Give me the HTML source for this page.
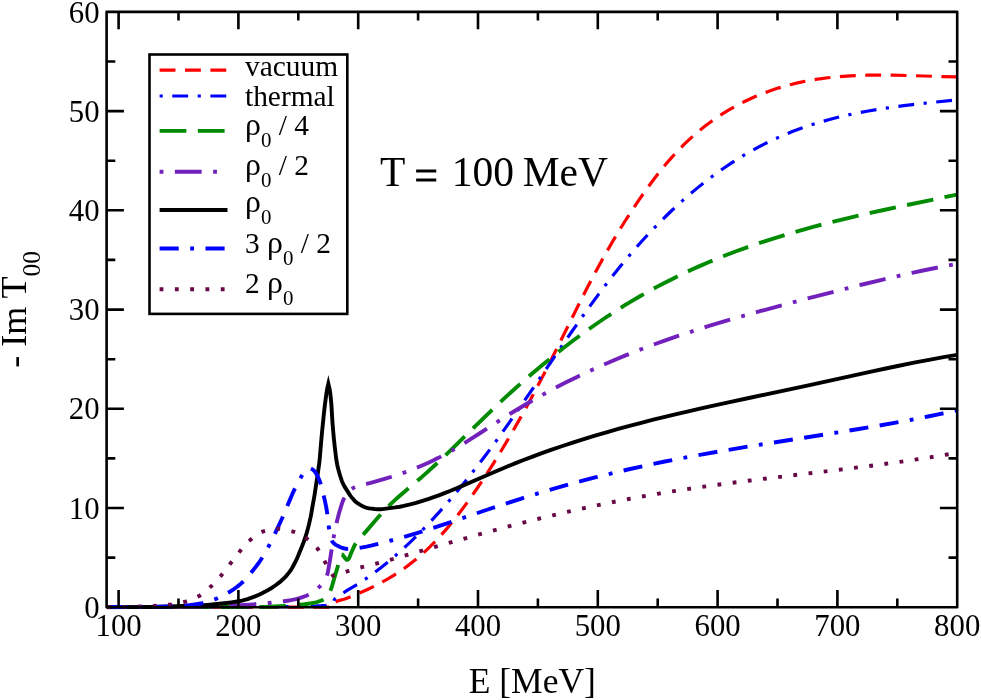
<!DOCTYPE html>
<html><head><meta charset="utf-8"><title>plot</title>
<style>html,body{margin:0;padding:0;background:#fff;}body{width:981px;height:700px;overflow:hidden;font-family:"Liberation Serif",serif;}svg{display:block;}</style>
</head><body>
<svg width="981" height="700" viewBox="0 0 981 700" style="will-change:transform">
<rect x="0" y="0" width="981" height="700" fill="#ffffff"/>
<defs><clipPath id="fr"><rect x="106.6" y="11.9" width="850.6" height="597.5"/></clipPath></defs>
<g clip-path="url(#fr)" fill="none" stroke-linecap="butt">
<path d="M106.6 607.2L332.1 607.2L332.35 607.17L332.6 607L333.1 606.48L333.35 606.04L333.6 605.46L334.35 603.5L334.6 602.98L334.85 602.64L335.6 602.11L336.6 601.54L337.6 601.07L338.85 600.61L343.85 599.28L344.85 598.94L346.85 598.17L351.85 596.18L356.85 594.11L361.85 591.96L366.35 589.94L373.35 586.61L376.85 584.85L380.35 583.02L383.85 581.12L387.1 579.28L390.35 577.36L393.35 575.53L398.85 571.99L404.35 568.2L409.6 564.34L415.1 560.01L420.1 555.82L425.1 551.35L430.1 546.61L434.85 541.83L439.85 536.5L445.1 530.62L449.85 525.01L455.1 518.52L460.1 512.1L465.1 505.4L471.1 497.06L476.35 489.51L482.35 480.57L488.35 471.36L494.1 462.27L500.6 451.72L506.85 441.32L513.1 430.64L519.1 420.15L525.1 409.4L529.85 400.71L534.85 391.37L540.85 379.95L545.6 370.76L556.85 348.52L580.1 301.82L587.1 288.1L592.85 277.03L599.35 264.92L606.35 252.33L612.6 241.52L619.35 230.31L624.35 222.27L629.35 214.45L634.1 207.21L638.85 200.17L644.1 192.6L648.85 185.96L653.1 180.22L658.1 173.72L662.35 168.39L666.35 163.57L671.1 158.12L675.6 153.17L679.85 148.71L684.35 144.21L688.85 139.92L693.35 135.83L696.35 133.22L699.35 130.69L705.1 126.07L710.85 121.75L716.85 117.53L719.85 115.53L722.85 113.6L726.1 111.58L729.35 109.64L735.6 106.11L742.1 102.7L745.6 100.97L748.85 99.43L755.85 96.31L762.6 93.55L769.6 90.95L776.6 88.59L784.1 86.33L791.1 84.44L798.6 82.66L805.35 81.24L813.1 79.84L819.85 78.79L827.6 77.78L834.35 77.05L843.35 76.28L850.35 75.84L859.1 75.43L867.6 75.21L874.85 75.1L882.6 75.11L893.1 75.2L908.35 75.54L942.35 76.55L957.2 76.84" stroke="#ff0000" stroke-width="3.20" stroke-linejoin="round" stroke-miterlimit="10" stroke-dasharray="15.87,9.52" stroke-dashoffset="21.80"/>
<path d="M106.6 607L251.6 606.9L267.85 606.81L285.85 606.61L307.35 606.25L314.85 606.02L321.6 605.72L325.85 605.39L329.35 604.95L330.35 604.76L331.1 604.55L331.85 604.24L332.35 603.96L332.6 603.8L332.85 603.42L334.1 600.18L334.35 599.64L334.6 599.27L335.35 598.37L336.1 597.58L336.85 596.87L337.85 596.06L339.6 594.88L344.1 592.39L348.35 589.72L357.6 584.26L362.1 581.34L367.1 577.91L374.1 572.86L380.85 567.7L388.35 561.65L395.35 555.69L401.6 550.14L407.1 545.07L413.35 539.09L419.6 532.91L425.85 526.5L432.1 519.9L438.1 513.35L444.6 506.06L450.6 499.14L456.85 491.74L462.6 484.76L468.6 477.31L474.6 469.69L480.85 461.57L487.1 453.29L493.35 444.82L499.1 436.9L504.1 429.91L517.1 411.39L529.85 392.87L552.6 359.49L562.85 344.53L571.85 331.53L580.1 319.78L590.1 305.82L598.35 294.59L607.1 283.01L615.35 272.48L620.35 266.27L625.35 260.21L630.6 254L635.85 247.94L641.1 242.04L646.35 236.29L651.6 230.68L656.85 225.23L662.1 219.92L667.1 215L672.6 209.75L677.85 204.87L683.1 200.14L688.6 195.33L693.85 190.89L699.35 186.38L705.85 181.25L712.1 176.51L718.6 171.77L725.1 167.24L731.6 162.91L738.1 158.78L744.85 154.69L751.6 150.81L758.35 147.13L764.6 143.91L771.6 140.5L778.35 137.4L785.35 134.39L792.35 131.58L799.85 128.76L807.1 126.23L814.1 123.95L821.1 121.83L828.6 119.72L836.1 117.78L843.85 115.92L851.6 114.22L859.85 112.55L868.35 110.98L876.6 109.58L885.1 108.26L894.1 106.98L903.85 105.7L912.6 104.63L923.1 103.42L957.2 99.73" stroke="#0000ff" stroke-width="3.20" stroke-linejoin="round" stroke-miterlimit="10" stroke-dasharray="3.17,9.52,15.87,9.52" stroke-dashoffset="36.98"/>
<path d="M106.6 607L190.85 606.98L259.85 606.9L264.35 606.86L269.1 606.73L278.6 606.3L291.85 605.48L298.35 604.93L304.6 604.22L308.1 603.73L311.35 603.21L313.85 602.75L315.85 602.31L317.85 601.77L319.6 601.2L321.35 600.53L323.1 599.75L324.1 599.2L325.35 598.22L326.6 596.95L327.85 595.43L328.6 594.3L329.35 592.9L330.1 591.29L330.85 589.52L331.6 587.48L332.35 585.06L334.35 578L338.1 565.4L339.85 559.31L341.1 555.42L341.35 554.73L341.6 554.34L341.85 554.33L342.1 554.47L342.85 555.14L343.35 555.75L344.85 557.84L346.1 559.23L346.6 559.68L346.85 559.82L347.1 559.89L347.35 559.88L347.6 559.79L347.85 559.62L348.35 559.16L348.85 558.58L349.35 557.64L350.85 553.84L353.35 548.07L354.35 545.92L355.1 544.5L355.6 543.68L356.6 542.19L357.6 540.82L358.85 539.25L360.1 537.81L365.6 531.88L374.1 521.89L378.6 516.77L384.85 510.05L387.85 506.95L390.6 504.18L394.6 500.34L398.35 496.96L409.35 487.55L421.35 477.41L427.6 471.87L434.85 465.26L441.85 458.7L451.35 449.6L483.85 417.8L490.6 411.28L497.35 404.86L505.6 397.17L514.35 389.19L522.85 381.62L531.35 374.24L542.1 365.16L552.6 356.57L563.1 348.27L573.85 340.06L584.6 332.15L595.1 324.72L605.35 317.74L610.6 314.28L615.85 310.89L624.1 305.71L632.1 300.86L640.35 296.03L648.6 291.37L656.85 286.89L665.35 282.43L673.85 278.14L682.6 273.89L691.35 269.81L700.1 265.89L709.1 262.01L718.35 258.19L727.6 254.53L736.85 251.02L746.35 247.56L756.1 244.16L765.35 241.07L774.85 238.03L784.6 235.03L794.35 232.15L804.35 229.32L814.85 226.46L825.6 223.65L836.6 220.88L847.1 218.34L858.35 215.69L870.35 212.97L882.6 210.26L906.35 205.18L957.2 194.55" stroke="#008b00" stroke-width="3.90" stroke-linejoin="round" stroke-miterlimit="10" stroke-dasharray="26.77,11.47" stroke-dashoffset="0.32"/>
<path d="M106.6 607L154.85 606.93L195.35 606.75L205.1 606.58L215.85 606.29L230.6 605.78L237.85 605.43L243.6 605.07L249.85 604.61L265.85 603.26L275.6 602.29L279.85 601.79L283.85 601.26L287.6 600.7L290.85 600.15L293.35 599.65L295.85 599.08L298.6 598.35L301.1 597.6L303.85 596.66L306.35 595.71L307.85 595.07L309.35 594.33L310.85 593.49L312.35 592.53L313.85 591.48L315.6 590.13L317.35 588.67L319.1 587.1L319.85 586.37L320.85 585.27L321.85 584.04L322.85 582.69L325.1 579.31L325.85 578L326.35 576.97L326.85 575.78L327.35 574.3L327.85 572.2L328.35 569.61L330.1 559.42L333.35 538.78L334.35 533.36L335.35 528.47L336.85 521.8L338.6 514.78L339.85 510.33L341.85 503.84L343.1 500.34L344.1 498.09L345.1 496.18L345.85 494.9L346.6 493.75L347.35 492.74L348.1 491.9L348.85 491.16L349.6 490.49L350.6 489.71L352.6 488.38L354.35 487.35L355.85 486.55L357.6 485.76L358.6 485.41L359.35 485.21L361.1 484.85L364.6 484.3L366.35 483.97L369.6 483.2L373.35 482.19L387.1 478.19L392.35 476.56L397.6 474.84L402.1 473.29L406.6 471.67L411.1 469.98L415.35 468.31L419.6 466.56L423.85 464.73L427.85 462.94L432.1 460.95L437.85 458.12L443.35 455.24L450.35 451.38L456.1 448.05L464.1 443.21L469.85 439.63L479.85 433.25L503.1 418.23L510.6 413.52L517.6 409.22L526.85 403.71L536.1 398.39L545.35 393.25L554.85 388.16L566.1 382.35L577.6 376.66L589.1 371.22L601.1 365.78L613.35 360.47L625.6 355.39L638.1 350.43L650.85 345.6L664.6 340.62L678.85 335.7L693.6 330.84L709.1 325.95L724.85 321.19L741.85 316.26L760.1 311.16L779.85 305.81L808.85 298.16L839.1 290.35L862.35 284.51L882.85 279.54L903.1 274.86L912.1 272.86L921.85 270.76L939.1 267.23L948.35 265.44L957.2 263.79" stroke="#7221bc" stroke-width="3.90" stroke-linejoin="round" stroke-miterlimit="10" stroke-dasharray="3.82,11.47,26.77,11.47" stroke-dashoffset="52.87"/>
<path d="M106.6 607.2L131.85 607.13L155.85 606.93L170.6 606.55L190.1 605.8L196.6 605.48L203.35 605.08L210.1 604.6L216.6 604.06L221.85 603.56L226.85 603L231.35 602.41L235.85 601.72L239.85 601.03L242.1 600.56L244.6 599.92L247.6 599.02L251.6 597.66L255.1 596.37L258.35 595.01L261.6 593.5L264.85 591.85L268.1 590.08L271.1 588.29L273.85 586.49L276.6 584.54L279.35 582.4L281.6 580.48L283.85 578.38L285.85 576.31L287.6 574.31L289.35 572.11L290.6 570.32L292.1 567.91L293.6 565.26L295.35 561.91L296.85 558.84L297.85 556.51L302.35 545.4L303.85 541.46L305.1 538L306.1 534.95L307.35 530.66L308.6 525.87L309.6 521.66L310.6 517.1L311.1 514.55L312.85 504.48L314.1 497.73L314.6 494.79L317.85 473.16L319.1 464.19L319.6 460L319.85 457.5L321.1 442.29L322.1 431.44L324.1 411.82L324.85 405.21L325.6 399.39L326.35 394.09L327.2 388.8L328.35 383.8L329.5 388.8L329.75 389.85L330.25 393.16L330.75 397.71L331.25 403.04L331.5 406.24L332.25 419.17L332.5 422.75L333 429.08L333.75 437.45L334.75 446.92L336.25 459.16L336.75 462.23L337.25 464.75L337.75 466.97L338.5 469.92L339.75 474.4L340.75 477.73L341.75 480.69L342.5 482.57L343.5 484.67L344.75 486.89L349 493.66L350.5 495.89L352.5 498.36L354.5 500.6L356 502.05L357.5 503.24L360.25 504.92L362.75 506.25L365 507.23L366.25 507.67L367.25 507.96L368.5 508.23L369.75 508.43L374.5 509.01L378 509.26L380.75 509.28L382.25 509.13L395.25 507.43L399.75 506.71L403.75 505.92L409.25 504.63L416 502.88L421.75 501.17L428.75 498.92L433.75 497.18L439.5 495.08L444.5 493.17L450 490.98L456.5 488.32L462.25 485.9L471.25 482.02L493.75 472.21L506.75 466.74L515 463.39L523.5 460.05L532 456.82L540.5 453.68L551 449.93L561.75 446.25L572.75 442.61L583.75 439.12L595 435.68L606.5 432.3L618.25 428.97L630.5 425.63L641.25 422.79L652.25 419.98L663.75 417.13L675.25 414.36L687.25 411.55L700 408.63L713.5 405.62L728.5 402.34L750 397.73L810.75 384.86L827.75 381.17L872.25 371.4L885.75 368.5L897.75 365.98L914 362.69L929 359.81L943.5 357.2L957.2 354.93" stroke="#000000" stroke-width="3.90" stroke-linejoin="miter" stroke-miterlimit="10"/>
<path d="M106.6 607L121.35 606.97L136.85 606.86L156.1 606.65L165.1 606.49L174.35 606.13L184.6 605.53L189.35 605.13L194.35 604.52L197.6 604.04L200.85 603.48L202.6 603.14L204.6 602.67L206.85 602.05L209.35 601.26L212.1 600.3L215.35 599.09L217.35 598.27L219.6 597.26L221.85 596.17L224.1 594.99L226.6 593.6L229.35 591.99L231.6 590.6L233.6 589.28L237.1 586.75L238.85 585.37L240.6 583.91L243.35 581.43L244.6 580.17L246.1 578.57L247.85 576.58L250.1 573.91L253.1 570.24L255.35 567.38L257.35 564.72L259.1 562.29L260.85 559.73L262.35 557.43L263.85 554.98L265.35 552.39L269.1 545.52L272.1 539.55L276.85 529.71L279.85 523.28L282.35 517.7L287.6 505.14L292.6 493.44L294.85 488.66L297.35 483.72L299.35 480.05L302.1 475.34L303.35 473.32L304.35 471.93L304.85 471.35L305.85 470.38L306.6 469.73L307.1 469.37L307.85 468.96L309.35 468.47L310.1 468.4L310.85 468.56L311.6 468.91L312.85 469.66L313.35 470.06L314.1 470.82L315.35 472.41L316.35 473.89L316.85 474.73L318.1 477.23L318.85 478.97L319.6 480.88L320.35 482.94L320.85 484.48L321.85 488.06L322.85 492.11L324.85 500.67L325.85 505.37L326.6 509.41L327.35 514.18L328.35 523.59L328.85 527.4L329.35 530.02L330.35 534.29L331.35 538.83L331.85 540.57L332.1 541.08L332.6 541.89L333.35 542.82L334.1 543.53L335.35 544.51L336.35 545.16L337.6 545.85L340.1 547.07L341.6 547.69L342.6 548L344.85 548.55L346.1 548.78L347.1 548.88L348.1 548.9L349.6 548.85L353.6 548.55L356.85 548.17L362.35 547.34L366.6 546.55L370.85 545.64L380.6 543.27L386.35 541.81L394.6 539.6L402.1 537.49L409.35 535.37L416.1 533.33L424.1 530.84L432.1 528.27L450.85 522.07L487.85 509.5L503.6 504.25L521.35 498.54L530.35 495.74L539.35 493.01L550.6 489.68L561.85 486.45L573.1 483.32L584.6 480.23L596.1 477.23L607.35 474.41L618.6 471.68L630.1 468.99L647.35 465.16L664.85 461.5L683.1 457.91L702.6 454.31L723.1 450.72L746.1 446.9L770.6 442.98L837.85 432.44L858.85 429.02L877.6 425.84L899.1 422.01L909.6 420.05L919.6 418.12L929.1 416.23L938.35 414.32L947.85 412.29L957.2 410.23" stroke="#0000ff" stroke-width="3.90" stroke-linejoin="round" stroke-miterlimit="10" stroke-dasharray="19.12,11.47,3.82,11.47,19.12,11.47" stroke-dashoffset="75.05"/>
<path d="M106.6 607L123.85 606.88L142.6 606.53L148.1 606.28L156.35 605.79L161.6 605.41L166.6 604.95L171.1 604.44L175.1 603.85L179.1 603.11L183.35 602.16L186.35 601.37L189.1 600.49L192.1 599.35L195.1 598.04L197.6 596.82L199.6 595.74L201.35 594.61L203.35 593.13L206.35 590.63L210.6 586.81L212.6 584.91L214.85 582.61L218.85 578.21L221.35 575.3L222.85 573.47L224.85 570.89L235.6 556.64L239.1 552.22L243.35 547.18L245.6 544.62L247.6 542.5L249.6 540.6L253.6 537.27L256.1 535.33L258.35 533.78L259.6 533.03L260.6 532.51L261.6 532.06L262.6 531.69L266.85 530.47L270.35 529.64L273.35 529.11L275.6 528.88L277.6 528.8L279.85 528.88L282.1 529.11L284.35 529.46L287.1 530.03L290.85 530.94L293.85 531.76L295.35 532.29L297.1 533.03L298.85 533.87L300.85 534.95L303.1 536.29L305.85 538.04L307.6 539.22L309.35 540.52L311.85 542.61L314.1 544.77L315.35 546.09L316.6 547.51L317.6 548.73L318.35 549.76L319.35 551.34L320.35 553.11L323.85 559.9L325.1 562.2L330.1 570.99L331.85 573.9L333 575.7L338.75 573.86L347.75 571.24L358.75 567.93L362.75 566.9L370 565.33L375.25 563.95L404.75 555.62L451.75 542.14L471.75 536.47L493 530.58L512.5 525.37L526 521.88L539.5 518.5L552.75 515.27L566.25 512.1L579.25 509.15L592.25 506.31L605.25 503.58L618 501.01L628.5 498.99L638.5 497.13L648.75 495.3L659 493.55L669.75 491.79L680.75 490.06L692.25 488.33L703.75 486.66L725.75 483.64L750.5 480.45L776.5 477.26L842.5 469.33L862.75 466.79L881 464.41L901.75 461.56L921.25 458.69L939.75 455.78L957.2 452.83" stroke="#670748" stroke-width="3.90" stroke-linejoin="round" stroke-miterlimit="10" stroke-dasharray="3.82,11.47" stroke-dashoffset="14.81"/>
</g>
<g fill="none" stroke="#000" stroke-width="2.60" stroke-linecap="butt" stroke-linejoin="round">
<rect x="106.6" y="11.9" width="850.6" height="595.3"/>
<path d="M118.6 607.2 V589.9 M118.6 11.9 V29.2M178.5 607.2 V598.5 M178.5 11.9 V20.6M238.4 607.2 V589.9 M238.4 11.9 V29.2M298.3 607.2 V598.5 M298.3 11.9 V20.6M358.2 607.2 V589.9 M358.2 11.9 V29.2M418.1 607.2 V598.5 M418.1 11.9 V20.6M478.0 607.2 V589.9 M478.0 11.9 V29.2M537.9 607.2 V598.5 M537.9 11.9 V20.6M597.8 607.2 V589.9 M597.8 11.9 V29.2M657.7 607.2 V598.5 M657.7 11.9 V20.6M717.6 607.2 V589.9 M717.6 11.9 V29.2M777.5 607.2 V598.5 M777.5 11.9 V20.6M837.4 607.2 V589.9 M837.4 11.9 V29.2M897.3 607.2 V598.5 M897.3 11.9 V20.6M106.6 557.6 H115.3 M957.2 557.6 H948.5M106.6 508.0 H123.9 M957.2 508.0 H939.9M106.6 458.4 H115.3 M957.2 458.4 H948.5M106.6 408.8 H123.9 M957.2 408.8 H939.9M106.6 359.2 H115.3 M957.2 359.2 H948.5M106.6 309.6 H123.9 M957.2 309.6 H939.9M106.6 259.9 H115.3 M957.2 259.9 H948.5M106.6 210.3 H123.9 M957.2 210.3 H939.9M106.6 160.7 H115.3 M957.2 160.7 H948.5M106.6 111.1 H123.9 M957.2 111.1 H939.9M106.6 61.5 H115.3 M957.2 61.5 H948.5"/>
</g>
<g font-family="'Liberation Serif', serif" fill="#000">
<text x="118.6" y="636.3" font-size="30.8" text-anchor="middle">100</text>
<text x="238.4" y="636.3" font-size="30.8" text-anchor="middle">200</text>
<text x="358.2" y="636.3" font-size="30.8" text-anchor="middle">300</text>
<text x="478.0" y="636.3" font-size="30.8" text-anchor="middle">400</text>
<text x="597.8" y="636.3" font-size="30.8" text-anchor="middle">500</text>
<text x="717.6" y="636.3" font-size="30.8" text-anchor="middle">600</text>
<text x="837.4" y="636.3" font-size="30.8" text-anchor="middle">700</text>
<text x="957.2" y="636.3" font-size="30.8" text-anchor="middle">800</text>
<text x="99.6" y="617.8" font-size="30.8" text-anchor="end">0</text>
<text x="99.6" y="518.6" font-size="30.8" text-anchor="end">10</text>
<text x="99.6" y="419.4" font-size="30.8" text-anchor="end">20</text>
<text x="99.6" y="320.2" font-size="30.8" text-anchor="end">30</text>
<text x="99.6" y="220.9" font-size="30.8" text-anchor="end">40</text>
<text x="99.6" y="121.7" font-size="30.8" text-anchor="end">50</text>
<text x="99.6" y="22.5" font-size="30.8" text-anchor="end">60</text>
<text x="532.3" y="692.6" font-size="35.5" text-anchor="middle">E [MeV]</text>
<text transform="translate(26.0 367.8) rotate(-90)" font-size="36.0" text-anchor="start">- Im T<tspan font-size="25.6" dy="14.4">00</tspan></text>
<text x="380.0" y="186.4" font-size="41.5">T <tspan dy="2.9" dx="-0.4" stroke="#000" stroke-width="0.8">=</tspan><tspan dy="-2.9" dx="3.3"> 100</tspan><tspan dx="-1.6"> MeV</tspan></text>
</g>
<rect x="149.5" y="54.5" width="197.8" height="259.4" fill="#fff" stroke="#000" stroke-width="2.60"/>
<g fill="none" stroke-linecap="butt">
<path d="M159.6 70.1 H226.3" stroke="#ff0000" stroke-width="3.20" stroke-dasharray="15.87,9.52"/>
<path d="M159.6 96.0 H226.3" stroke="#0000ff" stroke-width="3.20" stroke-dasharray="3.17,9.52,15.87,9.52"/>
<path d="M159.6 130.9 H226.3" stroke="#008b00" stroke-width="3.90" stroke-dasharray="26.77,11.47"/>
<path d="M159.6 171.7 H226.3" stroke="#7221bc" stroke-width="3.90" stroke-dasharray="3.82,11.47,26.77,11.47"/>
<path d="M159.6 210.0 H227.5" stroke="#000000" stroke-width="3.90"/>
<path d="M159.6 248.5 H226.3" stroke="#0000ff" stroke-width="3.90" stroke-dasharray="19.12,11.47,3.82,11.47,19.12,11.47"/>
<path d="M159.6 289.2 H226.3" stroke="#670748" stroke-width="3.90" stroke-dasharray="3.82,11.47"/>
</g>
<g font-family="'Liberation Serif', serif" fill="#000" font-size="29.4">
<text x="245.0" y="76.3">vacuum</text>
<text x="245.0" y="105.7">thermal</text>
<text x="245.0" y="135.0"><tspan font-size="31.8">ρ</tspan><tspan font-size="20.9" dy="11.6">0</tspan><tspan dy="-11.6"> / 4</tspan></text>
<text x="245.0" y="175.0"><tspan font-size="31.8">ρ</tspan><tspan font-size="20.9" dy="11.6">0</tspan><tspan dy="-11.6"> / 2</tspan></text>
<text x="245.0" y="212.4"><tspan font-size="31.8">ρ</tspan><tspan font-size="20.9" dy="11.6">0</tspan></text>
<text x="245.0" y="253.0">3 <tspan font-size="31.8">ρ</tspan><tspan font-size="20.9" dy="11.6">0</tspan><tspan dy="-11.6"> / 2</tspan></text>
<text x="245.0" y="293.0">2 <tspan font-size="31.8">ρ</tspan><tspan font-size="20.9" dy="11.6">0</tspan></text>
</g>
</svg>
</body></html>
